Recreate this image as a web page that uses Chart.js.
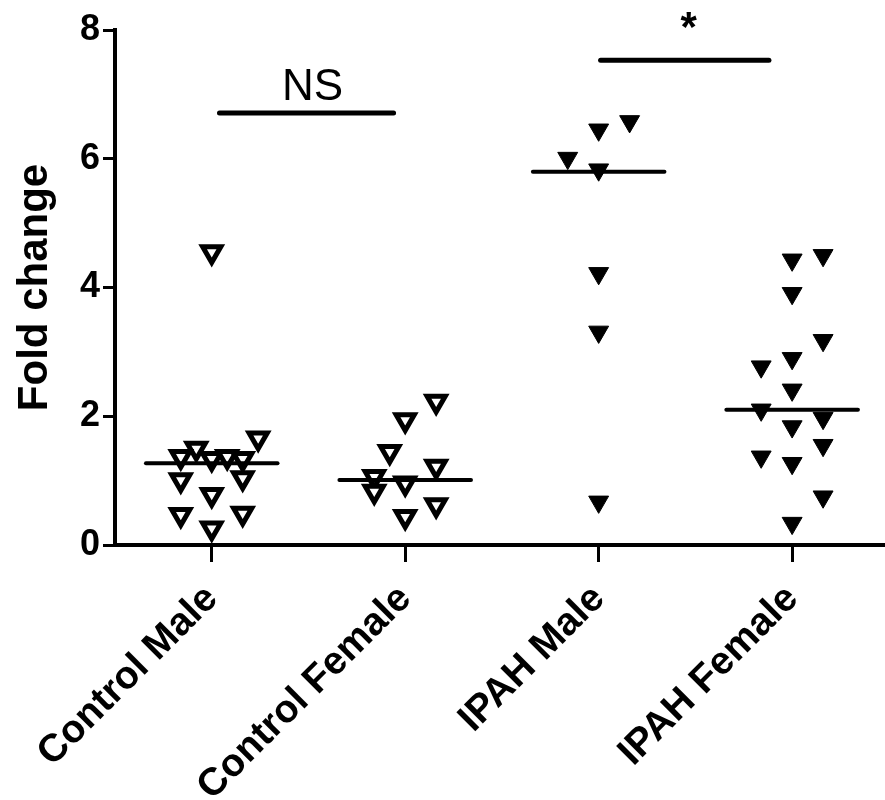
<!DOCTYPE html>
<html>
<head>
<meta charset="utf-8">
<script src="https://cdn.jsdelivr.net/npm/chart.js@4.4.1/dist/chart.umd.min.js"></script>
<style>
    html, body { margin: 0; padding: 0; background: #fff; }
    #wrap { width: 885px; height: 800px; position: relative; }
</style>
</head>
<body>
<div id="wrap"><canvas id="foldChart"></canvas></div>
<script>
const groups = ['Control Male', 'Control Female', 'IPAH Male', 'IPAH Female'];
const yTicks = [0, 2, 4, 6, 8];

// values, with the horizontal spread of each point (in group units)
const controlMale = [4.55, 1.66, 1.50, 1.37, 1.34, 1.37, 1.34, 1.01, 1.04, 0.78, 0.47, 0.49, 0.26];
const controlMaleSpread = [0, 0.24, -0.08, -0.16, 0, 0.08, 0.16, -0.16, 0.16, 0, -0.16, 0.16, 0];

const controlFemale = [2.23, 1.94, 1.45, 1.06, 0.83, 0.96, 1.22, 0.62, 0.44];
const controlFemaleSpread = [0.16, 0, -0.08, -0.16, -0.16, 0, 0.16, 0.16, 0];

const ipahMale = [6.58, 6.45, 6.01, 5.83, 4.22, 3.31, 0.67];
const ipahMaleSpread = [0.16, 0, -0.16, 0, 0, 0, 0];

const ipahFemale = [4.50, 4.43, 3.91, 3.18, 2.90, 2.77, 2.41, 2.10, 1.97, 1.84, 1.55, 1.37, 1.27, 0.75, 0.34];
const ipahFemaleSpread = [0.16, 0, 0, 0.16, 0, -0.16, 0, -0.16, 0.16, 0, 0.16, -0.16, 0, 0.16, 0];

const medians = [1.27, 1.01, 5.80, 2.10];

// significance bars
const sigLabels = ['NS', '*'];
const sigStart = [0.04, 2.01];
const sigEnd = [0.94, 2.88];
const sigLevel = [6.71, 7.53];

const FONT = "'Liberation Sans', Arial, Helvetica, sans-serif";
Chart.defaults.font.family = FONT;
Chart.defaults.color = '#000';

const toPoints = (vals, spread, idx) => vals.map((v, i) => ({ x: idx + spread[i], y: v }));

const medianSets = medians.map((m, i) => ({
    type: 'line',
    data: [{ x: i - 0.34, y: m }, { x: i + 0.34, y: m }],
    borderColor: '#000',
    borderWidth: 4,
    borderCapStyle: 'round',
    pointRadius: 0,
    clip: false
}));

const sigSets = sigLabels.map((s, i) => ({
    type: 'line',
    data: [{ x: sigStart[i], y: sigLevel[i] }, { x: sigEnd[i], y: sigLevel[i] }],
    borderColor: '#000',
    borderWidth: 5,
    borderCapStyle: 'round',
    pointRadius: 0,
    clip: false
}));

const openTri = {
    pointStyle: 'triangle',
    rotation: 180,
    pointRadius: 10.5,
    pointBackgroundColor: '#fff',
    pointBorderColor: '#000',
    pointBorderWidth: 5,
    showLine: false,
    clip: false
};
const filledTri = {
    pointStyle: 'triangle',
    rotation: 180,
    pointRadius: 11.5,
    pointBackgroundColor: '#000',
    pointBorderColor: '#000',
    pointBorderWidth: 1,
    showLine: false,
    clip: false
};

const pointSets = [
    Object.assign({ label: groups[0], data: toPoints(controlMale, controlMaleSpread, 0) }, openTri),
    Object.assign({ label: groups[1], data: toPoints(controlFemale, controlFemaleSpread, 1) }, openTri),
    Object.assign({ label: groups[2], data: toPoints(ipahMale, ipahMaleSpread, 2) }, filledTri),
    Object.assign({ label: groups[3], data: toPoints(ipahFemale, ipahFemaleSpread, 3) }, filledTri)
];

// NS / * above the bars
const sigTextPlugin = {
    id: 'sigText',
    afterDatasetsDraw: (chart) => {
        const { ctx, scales: { x, y } } = chart;
        ctx.save();
        ctx.fillStyle = '#000';
        ctx.textAlign = 'center';
        ctx.textBaseline = 'alphabetic';
        sigLabels.forEach((s, i) => {
            const cx = x.getPixelForValue((sigStart[i] + sigEnd[i]) / 2);
            const cy = y.getPixelForValue(sigLevel[i]);
            if (s === '*') {
                ctx.font = 'bold 42px ' + FONT;
                ctx.fillText(s, cx + 4, cy - 19);
            } else {
                ctx.font = '44px ' + FONT;
                ctx.fillText(s, cx + 6, cy - 13);
            }
        });
        ctx.restore();
    }
};

new Chart(document.getElementById('foldChart').getContext('2d'), {
    type: 'scatter',
    plugins: [sigTextPlugin],
    data: { datasets: [...medianSets, ...sigSets, ...pointSets] },
    options: {
        responsive: true,
        maintainAspectRatio: false,
        animation: false,
        devicePixelRatio: 1,
        layout: { autoPadding: false, padding: { top: 30, right: 0, left: 0, bottom: 0 } },
        plugins: {
            legend: { display: false },
            tooltip: { enabled: false }
        },
        scales: {
            x: {
                type: 'linear',
                min: -0.5,
                max: 3.48,
                afterBuildTicks: (s) => { s.ticks = groups.map((g, i) => ({ value: i })); },
                afterFit: (s) => { s.height = 255; s.paddingLeft = 0; s.paddingRight = 0; },
                ticks: {
                    autoSkip: false,
                    minRotation: 45,
                    maxRotation: 45,
                    padding: 14,
                    color: '#000',
                    font: { size: 39, weight: 'bold' },
                    callback: (v) => groups[v]
                },
                grid: { drawOnChartArea: false, drawTicks: true, tickLength: 17, tickWidth: 3, tickColor: '#000' },
                border: { display: true, color: '#000', width: 4 }
            },
            y: {
                min: 0,
                max: 8,
                afterBuildTicks: (s) => { s.ticks = yTicks.map(v => ({ value: v })); },
                afterFit: (s) => { s.width = 115; },
                ticks: {
                    padding: 3,
                    color: '#000',
                    font: { size: 36, weight: 'bold' }
                },
                grid: { drawOnChartArea: false, drawTicks: true, tickLength: 12, tickWidth: 3, tickColor: '#000' },
                border: { display: true, color: '#000', width: 4 },
                title: {
                    display: true,
                    text: 'Fold change',
                    color: '#000',
                    font: { size: 42, weight: 'bold' },
                    padding: { top: 10, bottom: 0 }
                }
            }
        }
    }
});
</script>
</body>
</html>
